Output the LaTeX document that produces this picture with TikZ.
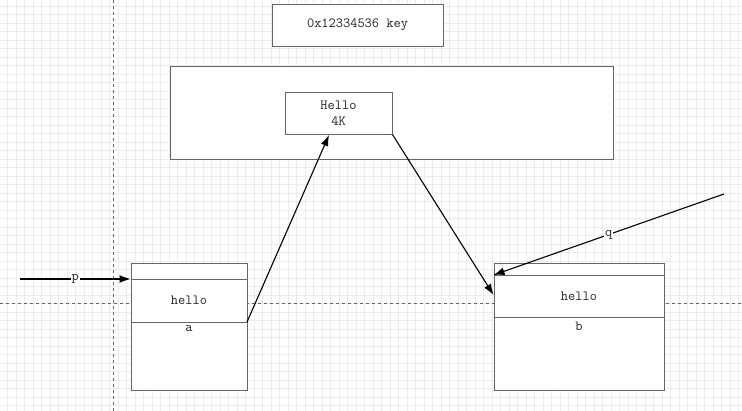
\documentclass[tikz,border=0pt]{standalone}
\usepackage{tikz}
\usetikzlibrary{arrows.meta}
\usepackage{xcolor}

\definecolor{boxline}{HTML}{666666}
\definecolor{txtgray}{HTML}{222222}

\begin{document}
\begin{tikzpicture}[x=1pt, y=-1pt,
    font=\ttfamily\fontsize{14}{16}\selectfont,
    membox/.style={draw=boxline, fill=white, line width=0.9pt, inner sep=0pt},
    ptr/.style={-{Latex[length=11pt,width=8pt]}, line width=1.1pt},
    tag/.style={fill=white, inner sep=1pt, text=txtgray}]
    \useasboundingbox (0,0) rectangle (742,411);

    % Grid
    \foreach \x in {0,...,87} {
        \pgfmathsetmacro\gx{7.5+8.5*\x}
        \draw[gray!15, line width=0.5pt] (\gx,0) -- (\gx,411);
    }
    \foreach \y in {0,...,48} {
        \pgfmathsetmacro\gy{6+8.5*\y}
        \draw[gray!15, line width=0.5pt] (0,\gy) -- (742,\gy);
    }

    % Page break lines
    \draw[dashed, line width=0.6pt, gray!80!black] (113,0) -- (113,411);
    \draw[dashed, line width=0.6pt, gray!80!black] (0,303) -- (742,303);

    % Key
    \node[membox, minimum width=171, minimum height=42, text=txtgray] (key) at (357.5,25) {0x12334536 key};

    % Shared memory block
    \node[membox, minimum width=443, minimum height=93] (shm) at (391.5,112.5) {};
    \node[membox, minimum width=107, minimum height=42, align=center, text=txtgray] (hello) at (338.5,113) {Hello\\4K};

    % Process a
    \node[membox, minimum width=116, minimum height=127] (a) at (189,326.5) {};
    \draw[boxline, line width=0.9pt] (a.west |- 0,279) -- (a.east |- 0,279);
    \draw[boxline, line width=0.9pt] (a.west |- 0,322) -- (a.east |- 0,322);
    \node[text=txtgray] (ahello) at (189,300) {hello};
    \node[text=txtgray] (aname) at (189,328) {a};

    % Process b
    \node[membox, minimum width=170, minimum height=127] (b) at (579,326.5) {};
    \draw[boxline, line width=0.9pt] (b.west |- 0,275) -- (b.east |- 0,275);
    \draw[boxline, line width=0.9pt] (b.west |- 0,317) -- (b.east |- 0,317);
    \node[text=txtgray] (bhello) at (579,296) {hello};
    \node[text=txtgray] (bname) at (579,326) {b};

    % Pointers
    \coordinate (pstart) at (20,279);
    \coordinate (qstart) at (724,194);
    \coordinate (aout) at (247,322);
    \coordinate (hin) at (329,135);
    \draw[ptr] (pstart) -- (a.west |- pstart) node[tag, midway] {p};
    \draw[ptr] (qstart) -- (b.west |- 0,275) node[tag, midway] {q};
    \draw[ptr] (aout) -- (hin);
    \draw[ptr] (hello.south east) -- (b.west |- 0,295);
\end{tikzpicture}
\end{document}
